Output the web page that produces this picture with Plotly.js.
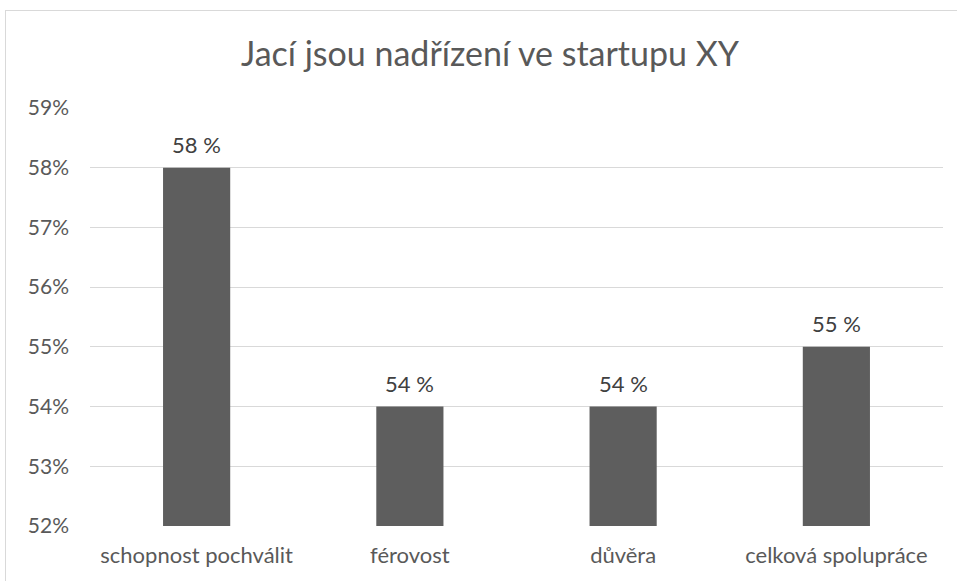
<!DOCTYPE html>
<html><head><meta charset="utf-8">
<script src="https://cdn.plot.ly/plotly-3.0.1.min.js"></script>
<style>
html,body{margin:0;padding:0;overflow:hidden;background:#fff;width:957px;height:581px;}
#chart{width:957px;height:581px;position:absolute;left:0;top:0;}
#frame{position:absolute;left:5px;top:10px;width:1000px;height:1000px;border:1px solid #d9d9d9;pointer-events:none;}
</style></head>
<body>
<div id="chart"></div>
<div id="frame"></div>
<script>
const categories = ["schopnost pochválit", "férovost", "důvěra", "celková spolupráce"];
const values = [0.58, 0.54, 0.54, 0.55];
const valueLabels = ["58 %", "54 %", "54 %", "55 %"];
const yTickVals = [0.52, 0.53, 0.54, 0.55, 0.56, 0.57, 0.58, 0.59];

const FONT = "Lato, 'Open Sans', sans-serif";
const TXT = "#595959";

const trace = {
  type: "bar",
  x: categories,
  y: values,
  width: 0.315,
  marker: {color: "#5e5e5e"},
  hoverinfo: "none"
};

const annotations = categories.map((c, i) => ({
  x: c, y: values[i], xref: "x", yref: "y",
  text: valueLabels[i], showarrow: false,
  yanchor: "bottom", yshift: 8,
  font: {family: FONT, size: 22, color: "#404040"}
}));

const layout = {
  width: 957, height: 581,
  margin: {l: 90, r: 14, t: 108, b: 55},
  paper_bgcolor: "#fff", plot_bgcolor: "#fff",
  title: {text: "Jací jsou nadřízení ve startupu XY", x: 0.512, xanchor: "center", y: 0.907, yanchor: "middle",
          font: {family: FONT, size: 34, color: TXT}},
  showlegend: false,
  xaxis: {type: "category", showline: false, ticks: "", tickfont: {family: FONT, size: 22, color: TXT},
          showgrid: false, zeroline: false, fixedrange: true, ticklabelstandoff: 14},
  yaxis: {range: [0.52, 0.59], tickvals: yTickVals, tickformat: ".0%", ticks: "",
          tickfont: {family: FONT, size: 21, color: TXT}, showgrid: true, gridcolor: "#d9d9d9",
          gridwidth: 1, zeroline: false, showline: false, ticklabelstandoff: 20, fixedrange: true},
  annotations: annotations,
  bargap: 0.685
};

Plotly.newPlot("chart", [trace], layout, {displayModeBar: false, staticPlot: true});
</script>
</body></html>
